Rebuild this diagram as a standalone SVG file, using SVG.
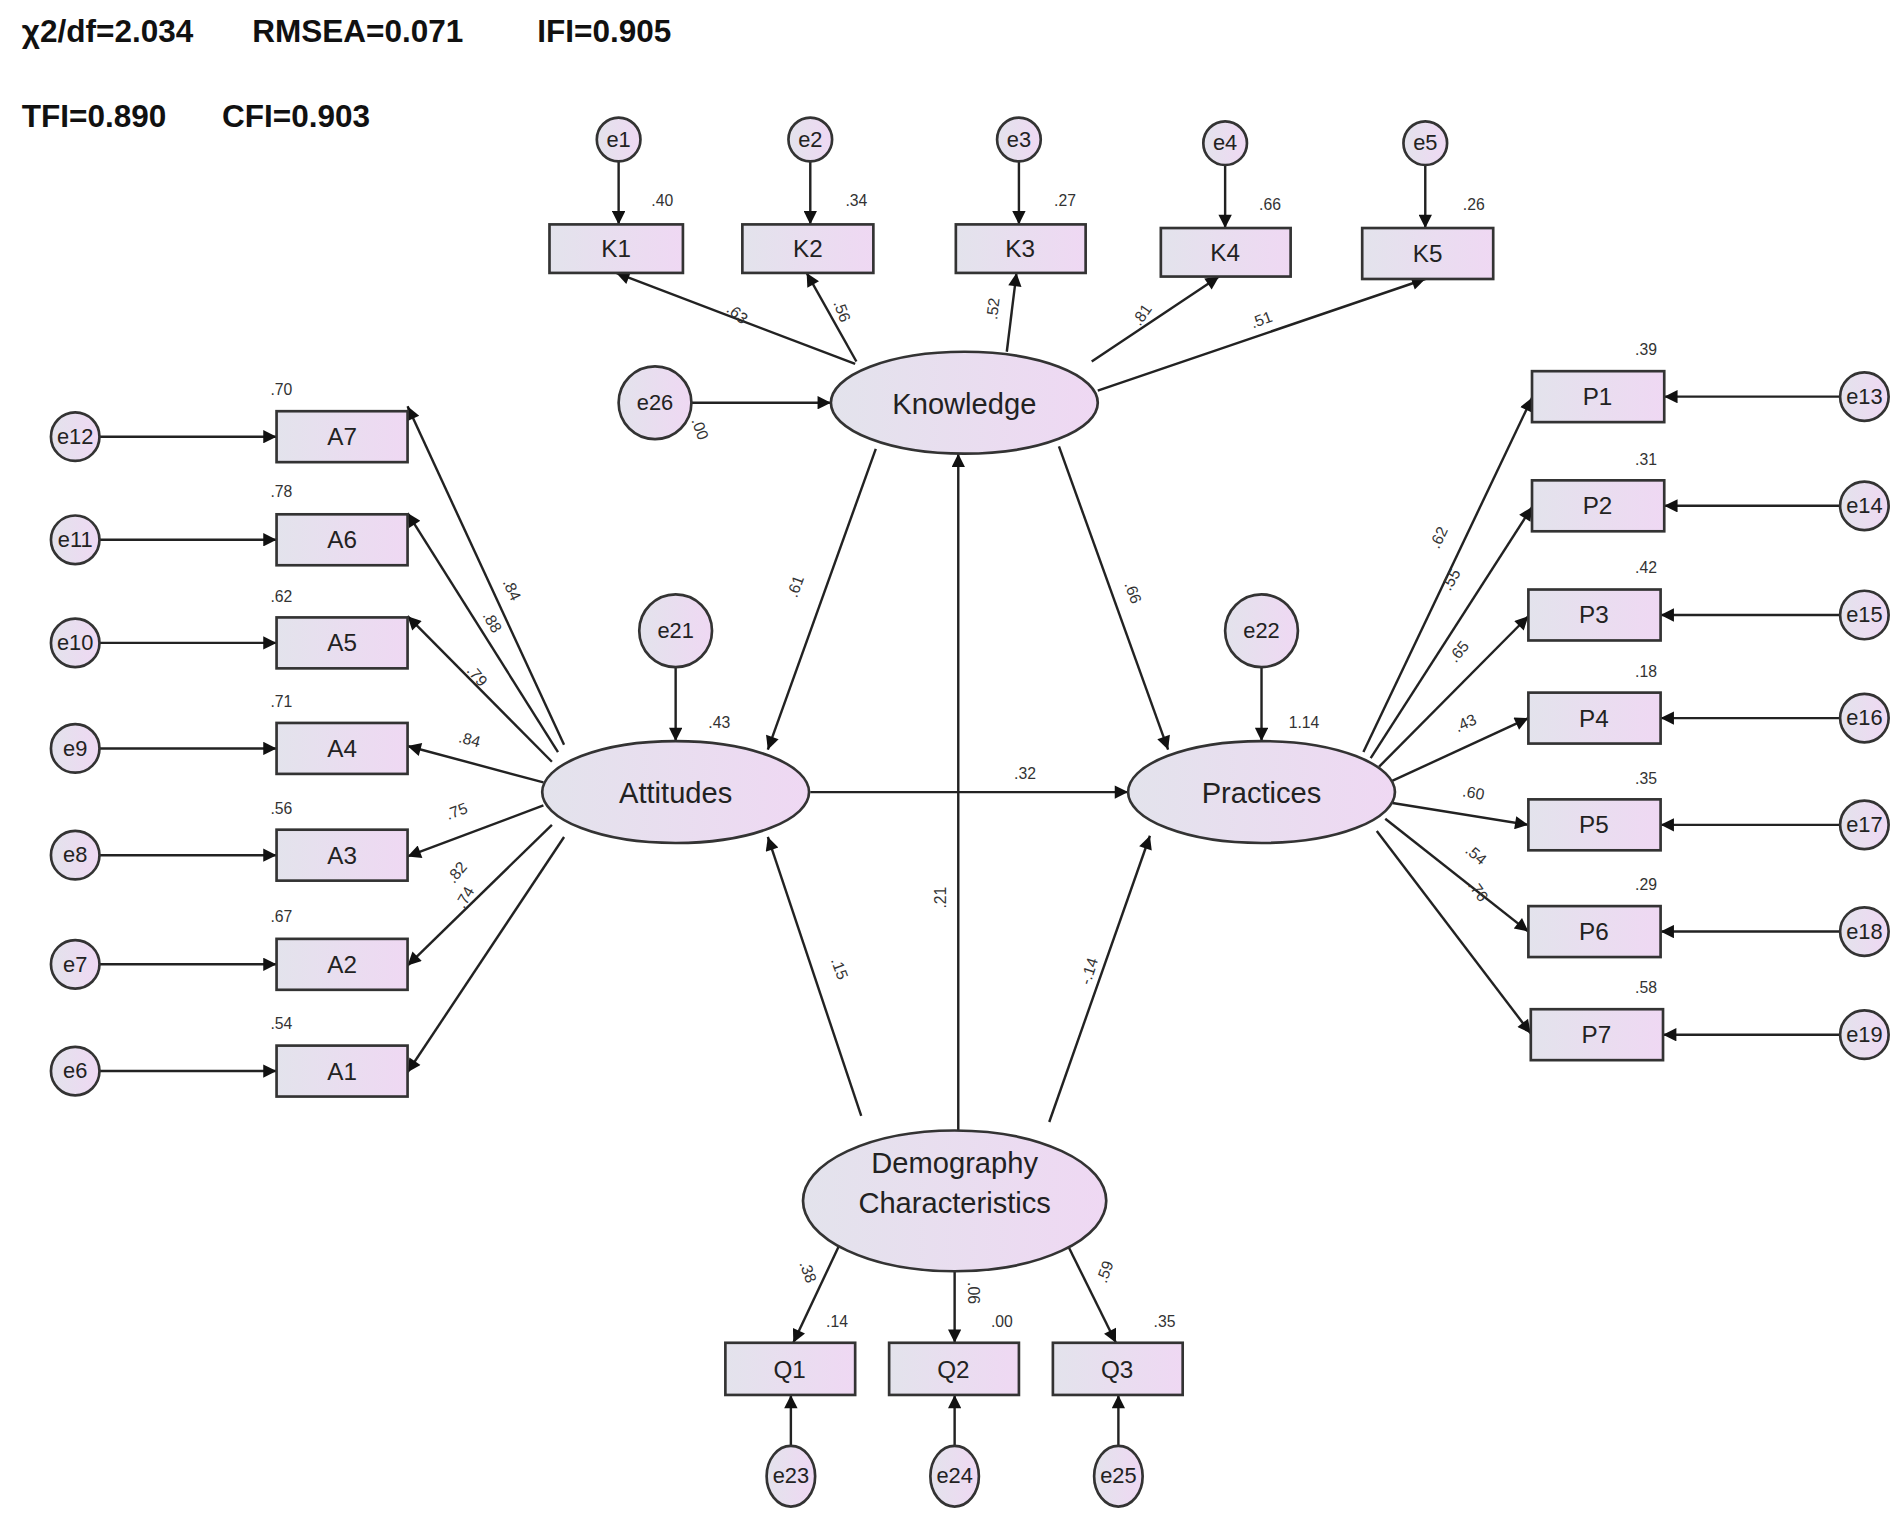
<svg xmlns="http://www.w3.org/2000/svg" width="1902" height="1519" viewBox="0 0 1902 1519">
<style>
.n{stroke:#333;stroke-width:2.2;fill:url(#g)}
.c line{stroke:#222;stroke-width:2;marker-end:url(#ah)}
.t{font-family:"Liberation Sans",Arial,sans-serif;fill:#222;text-anchor:middle}
.bx{font-size:20px}
.el{font-size:24px}
.er{font-size:18px}
.sm{font-family:"Liberation Sans",Arial,sans-serif;font-size:13px;fill:#333;text-anchor:middle}
.hd{font-family:"Liberation Sans",Arial,sans-serif;font-size:26px;font-weight:bold;fill:#111}
</style>
<defs>
<linearGradient id="g" x1="0" y1="0" x2="1" y2="0"><stop offset="0" stop-color="#e3e3ec"/><stop offset="1" stop-color="#efd8f3"/></linearGradient>
<marker id="ah" viewBox="0 0 10 10" refX="10" refY="5" markerWidth="13" markerHeight="11" markerUnits="userSpaceOnUse" orient="auto"><path d="M0,0 L10,5 L0,10 z" fill="#111"/></marker>
</defs>
<rect width="1902" height="1519" fill="#fff"/>
<g transform="scale(1.213)">
<g class="hd"><text x="18" y="35">χ2/df=2.034</text><text x="208" y="35">RMSEA=0.071</text><text x="443" y="35">IFI=0.905</text>
<text x="18" y="105">TFI=0.890</text><text x="183" y="105">CFI=0.903</text></g>
<g id="connectors" class="c">
<line x1="510" y1="133" x2="510" y2="185"/><line x1="668" y1="133" x2="668" y2="185"/><line x1="840" y1="133" x2="840" y2="185"/><line x1="1010" y1="136" x2="1010" y2="188"/><line x1="1175" y1="136" x2="1175" y2="188"/>
<line x1="705" y1="300" x2="508" y2="225"/><line x1="706" y1="298" x2="665" y2="225"/><line x1="830" y1="290" x2="838" y2="225"/><line x1="900" y1="298" x2="1005" y2="228"/><line x1="905" y1="322" x2="1175" y2="230"/>
<line x1="570" y1="332" x2="685" y2="332"/>
<line x1="722" y1="370" x2="633" y2="618"/><line x1="873" y1="368" x2="963" y2="618"/>
<line x1="668" y1="653" x2="930" y2="653"/>
<line x1="790" y1="932" x2="790" y2="374"/><line x1="710" y1="920" x2="633" y2="690"/><line x1="865" y1="925" x2="948" y2="689"/>
<line x1="557" y1="550" x2="557" y2="611"/><line x1="1040" y1="550" x2="1040" y2="611"/>
<line x1="465" y1="614" x2="336" y2="335"/><line x1="460" y1="620" x2="336" y2="423"/><line x1="455" y1="628" x2="336" y2="508"/><line x1="448" y1="645" x2="336" y2="615"/><line x1="448" y1="664" x2="336" y2="706"/><line x1="455" y1="680" x2="336" y2="796"/><line x1="465" y1="690" x2="336" y2="884"/>
<line x1="82" y1="360" x2="228" y2="360"/><line x1="82" y1="445" x2="228" y2="445"/><line x1="82" y1="530" x2="228" y2="530"/><line x1="82" y1="617" x2="228" y2="617"/><line x1="82" y1="705" x2="228" y2="705"/><line x1="82" y1="795" x2="228" y2="795"/><line x1="82" y1="883" x2="228" y2="883"/>
<line x1="1124" y1="620" x2="1263" y2="328"/><line x1="1130" y1="625" x2="1263" y2="418"/><line x1="1137" y1="632" x2="1260" y2="508"/><line x1="1145" y1="645" x2="1260" y2="592"/><line x1="1148" y1="662" x2="1260" y2="680"/><line x1="1142" y1="675" x2="1260" y2="768"/><line x1="1135" y1="685" x2="1262" y2="852"/>
<line x1="1517" y1="327" x2="1372" y2="327"/><line x1="1517" y1="417" x2="1372" y2="417"/><line x1="1517" y1="507" x2="1369" y2="507"/><line x1="1517" y1="592" x2="1369" y2="592"/><line x1="1517" y1="680" x2="1369" y2="680"/><line x1="1517" y1="768" x2="1369" y2="768"/><line x1="1517" y1="853" x2="1371" y2="853"/>
<line x1="695" y1="1020" x2="654" y2="1107"/><line x1="787" y1="1048" x2="787" y2="1107"/><line x1="878" y1="1022" x2="920" y2="1107"/>
<line x1="652" y1="1192" x2="652" y2="1150"/><line x1="787" y1="1192" x2="787" y2="1150"/><line x1="922" y1="1192" x2="922" y2="1150"/>
</g>
<g id="labels" class="sm">
<text transform="translate(605,262) rotate(40)">.63</text>
<text transform="translate(690,258) rotate(70)">.56</text>
<text transform="translate(823,255) rotate(-83)">.52</text>
<text transform="translate(945,262) rotate(-55)">.81</text>
<text x="1040" y="268" transform="rotate(-20 1040 264)">.51</text>
<text transform="translate(573,355) rotate(70)">.00</text>
<text transform="translate(660,485) rotate(-70)">.61</text>
<text transform="translate(930,490) rotate(70)">.66</text>
<text x="845" y="642">.32</text>
<text transform="translate(780,740) rotate(-90)">.21</text>
<text transform="translate(688,800) rotate(70)">.15</text>
<text transform="translate(902,802) rotate(-72)">-.14</text>
<text transform="translate(418,488) rotate(65)">.84</text>
<text transform="translate(402,515) rotate(60)">.88</text>
<text transform="translate(390,560) rotate(50)">.79</text>
<text transform="translate(386,614) rotate(15)">.84</text>
<text transform="translate(378,673) rotate(-20)">.75</text>
<text transform="translate(380,722) rotate(-50)">.82</text>
<text transform="translate(387,742) rotate(-60)">.74</text>
<text transform="translate(1190,445) rotate(-65)">.62</text>
<text transform="translate(1200,480) rotate(-60)">.55</text>
<text transform="translate(1206,540) rotate(-50)">.65</text>
<text transform="translate(1210,600) rotate(-25)">.43</text>
<text transform="translate(1214,658) rotate(10)">.60</text>
<text transform="translate(1214,708) rotate(40)">.54</text>
<text transform="translate(1215,737) rotate(55)">.76</text>
<text transform="translate(662,1050) rotate(70)">.38</text>
<text transform="translate(798,1066) rotate(90)">.06</text>
<text transform="translate(915,1050) rotate(-70)">.59</text>
<text x="546" y="170">.40</text><text x="706" y="170">.34</text><text x="878" y="170">.27</text><text x="1047" y="173">.66</text><text x="1215" y="173">.26</text>
<text x="232" y="326">.70</text><text x="232" y="410">.78</text><text x="232" y="496">.62</text><text x="232" y="583">.71</text><text x="232" y="671">.56</text><text x="232" y="760">.67</text><text x="232" y="848">.54</text>
<text x="1357" y="293">.39</text><text x="1357" y="383">.31</text><text x="1357" y="472">.42</text><text x="1357" y="558">.18</text><text x="1357" y="646">.35</text><text x="1357" y="734">.29</text><text x="1357" y="819">.58</text>
<text x="593" y="600">.43</text><text x="1075" y="600">1.14</text>
<text x="690" y="1094">.14</text><text x="826" y="1094">.00</text><text x="960" y="1094">.35</text>
</g>
<g id="e1"><circle class="n" cx="510" cy="115" r="18"/><text class="t er" x="510" y="121">e1</text></g>
<g id="e2"><circle class="n" cx="668" cy="115" r="18"/><text class="t er" x="668" y="121">e2</text></g>
<g id="e3"><circle class="n" cx="840" cy="115" r="18"/><text class="t er" x="840" y="121">e3</text></g>
<g id="e4"><circle class="n" cx="1010" cy="118" r="18"/><text class="t er" x="1010" y="124">e4</text></g>
<g id="e5"><circle class="n" cx="1175" cy="118" r="18"/><text class="t er" x="1175" y="124">e5</text></g>
<g id="K1"><rect class="n" x="453" y="185" width="110" height="40"/><text class="t bx" x="508" y="212">K1</text></g>
<g id="K2"><rect class="n" x="612" y="185" width="108" height="40"/><text class="t bx" x="666" y="212">K2</text></g>
<g id="K3"><rect class="n" x="788" y="185" width="107" height="40"/><text class="t bx" x="841" y="212">K3</text></g>
<g id="K4"><rect class="n" x="957" y="188" width="107" height="40"/><text class="t bx" x="1010" y="215">K4</text></g>
<g id="K5"><rect class="n" x="1123" y="188" width="108" height="42"/><text class="t bx" x="1177" y="216">K5</text></g>
<g id="Knowledge"><ellipse class="n" cx="795" cy="332" rx="110" ry="42"/><text class="t el" x="795" y="341">Knowledge</text></g>
<g id="e26"><circle class="n" cx="540" cy="332" r="30"/><text class="t er" x="540" y="338">e26</text></g>
<g id="Attitudes"><ellipse class="n" cx="557" cy="653" rx="110" ry="42"/><text class="t el" x="557" y="662">Attitudes</text></g>
<g id="e21"><circle class="n" cx="557" cy="520" r="30"/><text class="t er" x="557" y="526">e21</text></g>
<g id="Practices"><ellipse class="n" cx="1040" cy="653" rx="110" ry="42"/><text class="t el" x="1040" y="662">Practices</text></g>
<g id="e22"><circle class="n" cx="1040" cy="520" r="30"/><text class="t er" x="1040" y="526">e22</text></g>
<g id="Demography"><ellipse class="n" cx="787" cy="990" rx="125" ry="58"/><text class="t el" x="787" y="967">Demography</text><text class="t el" x="787" y="1000">Characteristics</text></g>
<g id="A7"><rect class="n" x="228" y="339" width="108" height="42"/><text class="t bx" x="282" y="367">A7</text></g>
<g id="A6"><rect class="n" x="228" y="424" width="108" height="42"/><text class="t bx" x="282" y="452">A6</text></g>
<g id="A5"><rect class="n" x="228" y="509" width="108" height="42"/><text class="t bx" x="282" y="537">A5</text></g>
<g id="A4"><rect class="n" x="228" y="596" width="108" height="42"/><text class="t bx" x="282" y="624">A4</text></g>
<g id="A3"><rect class="n" x="228" y="684" width="108" height="42"/><text class="t bx" x="282" y="712">A3</text></g>
<g id="A2"><rect class="n" x="228" y="774" width="108" height="42"/><text class="t bx" x="282" y="802">A2</text></g>
<g id="A1"><rect class="n" x="228" y="862" width="108" height="42"/><text class="t bx" x="282" y="890">A1</text></g>
<g id="e12"><circle class="n" cx="62" cy="360" r="20"/><text class="t er" x="62" y="366">e12</text></g>
<g id="e11"><circle class="n" cx="62" cy="445" r="20"/><text class="t er" x="62" y="451">e11</text></g>
<g id="e10"><circle class="n" cx="62" cy="530" r="20"/><text class="t er" x="62" y="536">e10</text></g>
<g id="e9"><circle class="n" cx="62" cy="617" r="20"/><text class="t er" x="62" y="623">e9</text></g>
<g id="e8"><circle class="n" cx="62" cy="705" r="20"/><text class="t er" x="62" y="711">e8</text></g>
<g id="e7"><circle class="n" cx="62" cy="795" r="20"/><text class="t er" x="62" y="801">e7</text></g>
<g id="e6"><circle class="n" cx="62" cy="883" r="20"/><text class="t er" x="62" y="889">e6</text></g>
<g id="P1"><rect class="n" x="1263" y="306" width="109" height="42"/><text class="t bx" x="1317" y="334">P1</text></g>
<g id="P2"><rect class="n" x="1263" y="396" width="109" height="42"/><text class="t bx" x="1317" y="424">P2</text></g>
<g id="P3"><rect class="n" x="1260" y="486" width="109" height="42"/><text class="t bx" x="1314" y="514">P3</text></g>
<g id="P4"><rect class="n" x="1260" y="571" width="109" height="42"/><text class="t bx" x="1314" y="599">P4</text></g>
<g id="P5"><rect class="n" x="1260" y="659" width="109" height="42"/><text class="t bx" x="1314" y="687">P5</text></g>
<g id="P6"><rect class="n" x="1260" y="747" width="109" height="42"/><text class="t bx" x="1314" y="775">P6</text></g>
<g id="P7"><rect class="n" x="1262" y="832" width="109" height="42"/><text class="t bx" x="1316" y="860">P7</text></g>
<g id="e13"><circle class="n" cx="1537" cy="327" r="20"/><text class="t er" x="1537" y="333">e13</text></g>
<g id="e14"><circle class="n" cx="1537" cy="417" r="20"/><text class="t er" x="1537" y="423">e14</text></g>
<g id="e15"><circle class="n" cx="1537" cy="507" r="20"/><text class="t er" x="1537" y="513">e15</text></g>
<g id="e16"><circle class="n" cx="1537" cy="592" r="20"/><text class="t er" x="1537" y="598">e16</text></g>
<g id="e17"><circle class="n" cx="1537" cy="680" r="20"/><text class="t er" x="1537" y="686">e17</text></g>
<g id="e18"><circle class="n" cx="1537" cy="768" r="20"/><text class="t er" x="1537" y="774">e18</text></g>
<g id="e19"><circle class="n" cx="1537" cy="853" r="20"/><text class="t er" x="1537" y="859">e19</text></g>
<g id="Q1"><rect class="n" x="598" y="1107" width="107" height="43"/><text class="t bx" x="651" y="1136">Q1</text></g>
<g id="Q2"><rect class="n" x="733" y="1107" width="107" height="43"/><text class="t bx" x="786" y="1136">Q2</text></g>
<g id="Q3"><rect class="n" x="868" y="1107" width="107" height="43"/><text class="t bx" x="921" y="1136">Q3</text></g>
<g id="e23"><ellipse class="n" cx="652" cy="1217" rx="20" ry="25"/><text class="t er" x="652" y="1223">e23</text></g>
<g id="e24"><ellipse class="n" cx="787" cy="1217" rx="20" ry="25"/><text class="t er" x="787" y="1223">e24</text></g>
<g id="e25"><ellipse class="n" cx="922" cy="1217" rx="20" ry="25"/><text class="t er" x="922" y="1223">e25</text></g>
</g>
</svg>
